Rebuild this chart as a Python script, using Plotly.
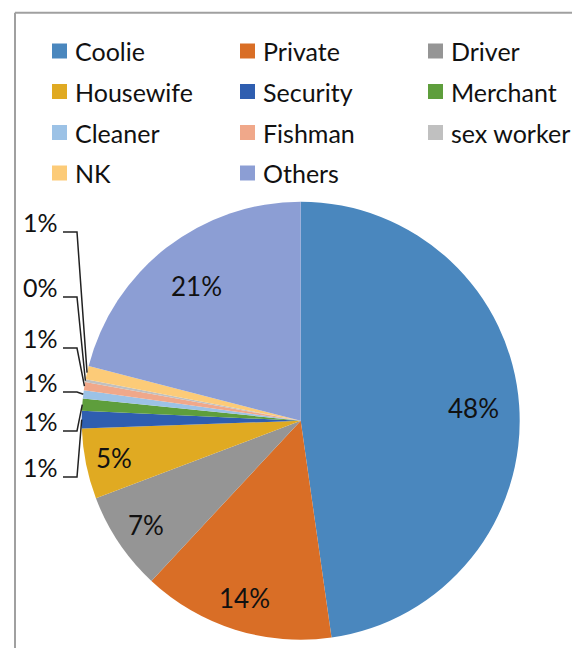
import math
import plotly.graph_objects as go

# ---- data ----
categories = ["Coolie", "Private", "Driver", "Housewife", "Security", "Merchant",
              "Cleaner", "Fishman", "sex worker", "NK", "Others"]
values = [47.8, 14.2, 7.3, 5.2, 1.3, 0.9, 0.6, 0.6, 0.2, 1.0, 21.0]
colors = ["#4A87BE", "#D96E26", "#959595", "#E0AA22", "#2F5EB0", "#5E9E3C",
          "#9CC2E6", "#F0A88A", "#C0C0C0", "#FCCB78", "#8C9ED4"]

# ---- layout constants (page pixels; the page body has an 8px margin) ----
OFF = 8
W, H = 580 - OFF, 648 - OFF
CX, CY, R = 300.7, 420.7, 219.0
FONT = "Lato"
FS = 26
LEG_FS = 25

def px(x):
    return (x - OFF) / W

def py(y):
    return 1 - (y - OFF) / H

total = sum(values)
pct_text = [f"{round(v / total * 100)}%" for v in values]

# cumulative angles (clockwise from 12 o'clock)
mids = []
acc = 0.0
for v in values:
    a0 = acc / total * 360
    acc += v
    a1 = acc / total * 360
    mids.append((a0 + a1) / 2)

def polar(angle_deg, r):
    a = math.radians(angle_deg)
    return CX + r * math.sin(a), CY - r * math.cos(a)

fig = go.Figure(go.Pie(
    labels=categories,
    values=values,
    marker=dict(colors=colors, line=dict(width=0)),
    sort=False,
    direction="clockwise",
    rotation=0,
    textinfo="none",
    hoverinfo="label+percent",
    showlegend=False,
    domain=dict(x=[px(CX - R), px(CX + R)], y=[py(CY + R), py(CY - R)]),
))

annotations = []
shapes = []

# inside labels for large slices (radius fraction per slice)
inside_r = {"Coolie": 0.79, "Private": 0.85, "Driver": 0.85, "Housewife": 0.87, "Others": 0.78}
for i, c in enumerate(categories):
    if c in inside_r:
        x, y = polar(mids[i], R * inside_r[c])
        annotations.append(dict(x=px(x), y=py(y), xref="paper", yref="paper",
                                text=pct_text[i], showarrow=False,
                                font=dict(family=FONT, size=FS, color="#111111"),
                                xanchor="center", yanchor="middle"))

# outside labels with leader lines for small slices
outside_y = {"NK": 222, "sex worker": 287, "Fishman": 338, "Cleaner": 382,
             "Merchant": 421, "Security": 467}
for i, c in enumerate(categories):
    if c in outside_y:
        ly = outside_y[c]
        annotations.append(dict(x=px(60), y=py(ly), xref="paper", yref="paper",
                                text=pct_text[i], showarrow=False,
                                font=dict(family=FONT, size=FS - 1, color="#111111"),
                                xanchor="right", yanchor="middle"))
        ex, ey = polar(mids[i], R)
        sy = ly + 10
        path = f"M {px(63)} {py(sy)} L {px(77)} {py(sy)} L {px(ex)} {py(ey)}"
        shapes.append(dict(type="path", xref="paper", yref="paper", path=path,
                           line=dict(color="#222222", width=1.5)))

# legend (3 columns, 4 rows)
col_x = [52, 240, 428]
row_y = [51, 91.5, 132.5, 173]
for i, c in enumerate(categories):
    r, k = divmod(i, 3)
    mx, my = col_x[k], row_y[r]
    shapes.append(dict(type="rect", xref="paper", yref="paper",
                       x0=px(mx), x1=px(mx + 15), y0=py(my + 7.5), y1=py(my - 7.5),
                       fillcolor=colors[i], line=dict(width=0)))
    annotations.append(dict(x=px(mx + 21), y=py(my), xref="paper", yref="paper",
                            text=c, showarrow=False,
                            font=dict(family=FONT, size=LEG_FS, color="#111111"),
                            xanchor="left", yanchor="middle"))

# chart frame (top and left edges visible)
shapes.append(dict(type="line", xref="paper", yref="paper",
                   x0=px(15), x1=1, y0=py(12.7), y1=py(12.7),
                   line=dict(color="#A0A0A0", width=2)))
shapes.append(dict(type="line", xref="paper", yref="paper",
                   x0=px(15), x1=px(15), y0=py(12.7), y1=0,
                   line=dict(color="#A0A0A0", width=2)))

fig.update_layout(
    width=W, height=H,
    margin=dict(l=0, r=0, t=0, b=0),
    paper_bgcolor="white",
    plot_bgcolor="white",
    annotations=annotations,
    shapes=shapes,
)

fig.write_html("out.html")
